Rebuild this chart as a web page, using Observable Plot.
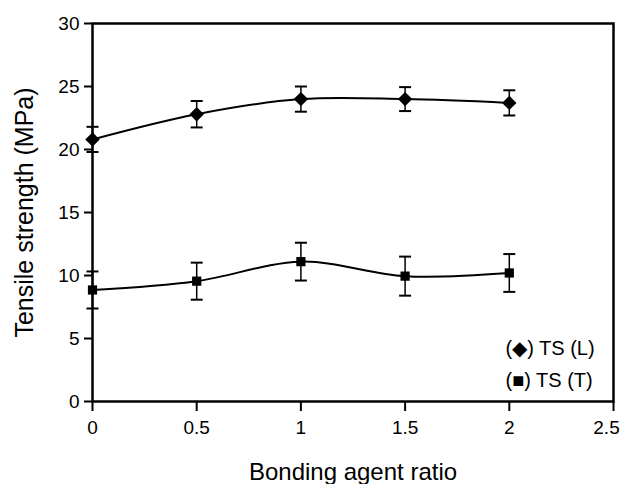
<!DOCTYPE html>
<html>
<head>
<meta charset="utf-8">
<script src="https://cdn.jsdelivr.net/npm/d3@7"></script>
<script src="https://cdn.jsdelivr.net/npm/@observablehq/plot@0.6"></script>
<style>
  html, body { margin: 0; padding: 0; background: #fff; }
  svg text { font-family: "Liberation Sans", Arial, sans-serif; }
</style>
</head>
<body>
<div id="chart"></div>
<script>
// Data
const ratios = [0, 0.5, 1, 1.5, 2];
const tsL = [20.8, 22.8, 24.0, 24.0, 23.7];
const tsLErr = [1.0, 1.05, 1.0, 0.95, 1.0];
const tsT = [8.85, 9.55, 11.1, 9.95, 10.2];
const tsTErr = [1.47, 1.47, 1.5, 1.55, 1.5];
const xTicks = [0, 0.5, 1, 1.5, 2, 2.5];
const yTicks = [0, 5, 10, 15, 20, 25, 30];
const legendLines = ["(\u25C6) TS (L)", "(\u25A0) TS (T)"];

const rowsL = ratios.map((x, i) => ({x, y: tsL[i], lo: tsL[i] - tsLErr[i], hi: tsL[i] + tsLErr[i]}));
const rowsT = ratios.map((x, i) => ({x, y: tsT[i], lo: tsT[i] - tsTErr[i], hi: tsT[i] + tsTErr[i]}));
const rowsAll = rowsL.concat(rowsT);

// horizontal cap symbol for error bars
const cap = {
  draw(context, size) {
    const w = Math.sqrt(size / Math.PI);
    context.moveTo(-w, 0);
    context.lineTo(w, 0);
  }
};

const chart = Plot.plot({
  width: 625,
  height: 484,
  marginLeft: 92,
  marginRight: 12,
  marginTop: 23,
  marginBottom: 83,
  style: {fontFamily: "Liberation Sans, Arial, sans-serif", color: "black", background: "white"},
  x: {domain: [0, 2.5]},
  y: {domain: [0, 30]},
  marks: [
    Plot.axisY({ticks: yTicks, tickSize: 8, tickPadding: 5, fontSize: 19, strokeWidth: 2,
      label: "Tensile strength (MPa)", labelAnchor: "center", labelArrow: "none", labelOffset: 77}),
    Plot.axisX({ticks: xTicks, tickSize: 10, tickPadding: 9, fontSize: 19, strokeWidth: 2,
      tickFormat: d => String(d),
      label: "Bonding agent ratio", labelAnchor: "center", labelArrow: "none", labelOffset: 78}),
    Plot.frame({stroke: "black", strokeWidth: 2.5}),
    Plot.ruleX(rowsAll, {x: "x", y1: "lo", y2: "hi", stroke: "black", strokeWidth: 1.5}),
    Plot.dot(rowsAll, {x: "x", y: "lo", symbol: cap, r: 6, stroke: "black", strokeWidth: 2, fill: "none"}),
    Plot.dot(rowsAll, {x: "x", y: "hi", symbol: cap, r: 6, stroke: "black", strokeWidth: 2, fill: "none"}),
    Plot.line(rowsL, {x: "x", y: "y", curve: "catmull-rom", stroke: "black", strokeWidth: 2}),
    Plot.line(rowsT, {x: "x", y: "y", curve: "catmull-rom", stroke: "black", strokeWidth: 2}),
    Plot.dot(rowsL, {x: "x", y: "y", symbol: "diamond2", r: 6.5, fill: "black", stroke: "none"}),
    Plot.dot(rowsT, {x: "x", y: "y", symbol: "square", r: 5.2, fill: "black", stroke: "none"}),
    Plot.text([legendLines.join("\n")], {text: d => d, frameAnchor: "bottom-right", textAnchor: "start",
      lineAnchor: "bottom", lineHeight: 1.6, dx: -108, dy: -15, fontSize: 20, fill: "black"})
  ]
});
chart.querySelectorAll("[aria-label='y-axis label'] text").forEach(t => t.setAttribute("font-size", 25));
chart.querySelectorAll("[aria-label='x-axis label'] text").forEach(t => t.setAttribute("font-size", 24));
const xLabels = chart.querySelectorAll("[aria-label='x-axis tick label'] text");
if (xLabels.length) {
  const last = xLabels[xLabels.length - 1];
  last.setAttribute("transform", (last.getAttribute("transform") || "") + " translate(-7,0)");
}
document.getElementById("chart").appendChild(chart);
</script>
</body>
</html>
